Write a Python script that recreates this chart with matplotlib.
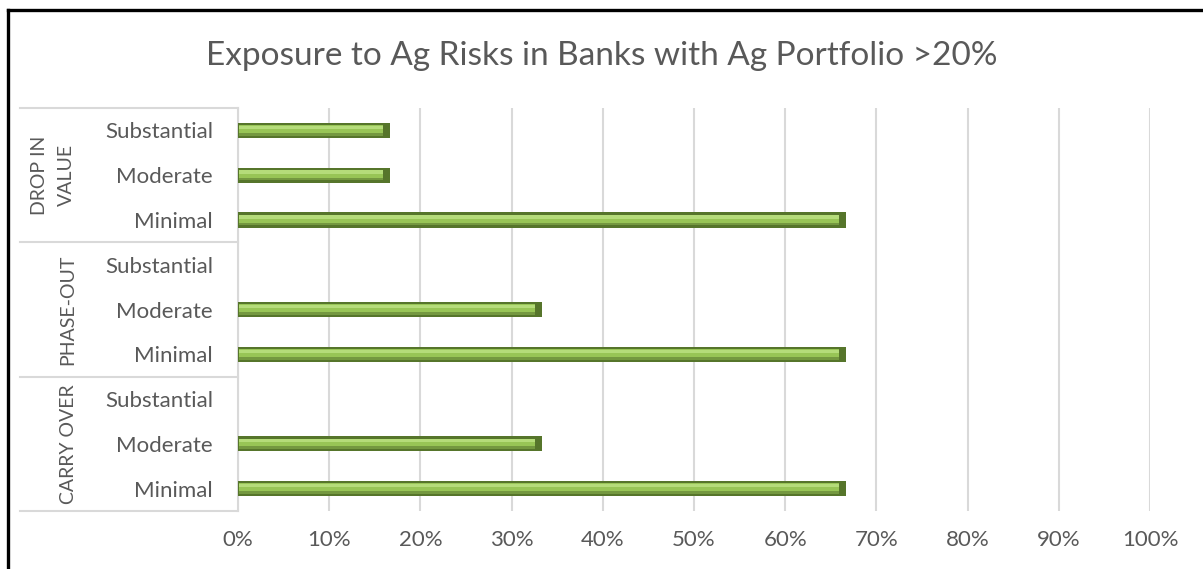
import numpy as np
import matplotlib.pyplot as plt
from matplotlib.lines import Line2D
import matplotlib.transforms as mtransforms

plt.rcParams['font.family'] = ['Lato', 'DejaVu Sans']

title = "Exposure to Ag Risks in Banks with Ag Portfolio >20%"
groups = ['CARRY OVER', 'PHASE-OUT', 'DROP IN\nVALUE']
levels = ['Minimal', 'Moderate', 'Substantial']
carry_over = [66.67, 33.33, 0.0]
phase_out = [66.67, 33.33, 0.0]
drop_in_value = [66.67, 16.67, 16.67]
xticks = [0, 10, 20, 30, 40, 50, 60, 70, 80, 90, 100]

values = np.array(carry_over + phase_out + drop_in_value)
labels = levels * 3
ypos = np.arange(len(values))

W, H = 1203, 569
fig = plt.figure(figsize=(W / 100, H / 100), dpi=100)
ax = fig.add_axes([238 / W, (H - 511) / H, (1150 - 238) / W, (511 - 108) / H])

grey = '#d9d9d9'
txt = '#595959'

# bevelled bars: dark base, mid body, light top strip
h = 0.34
ax.barh(ypos, values, height=h, color='#56752b', zorder=3)
body = np.where(values > 0, values - 0.9, 0)
ax.barh(ypos + 0.01, body, height=h * 0.62, left=0.15, color='#98c556', zorder=4)
ax.barh(ypos + h * 0.2, body, height=h * 0.22, left=0.15, color='#b5dc7a', zorder=5)
ax.barh(ypos - h * 0.26, body, height=h * 0.18, left=0.15, color='#749840', zorder=5)

ax.set_xlim(0, 100)
ax.set_ylim(-0.5, len(values) - 0.5)
ax.set_xticks(xticks)
ax.set_xticklabels([f"{t}%" for t in xticks], color=txt, fontsize=16)
ax.set_yticks(ypos)
ax.set_yticklabels(labels, color=txt, fontsize=16)
ax.tick_params(axis='both', length=0)
ax.tick_params(axis='x', pad=14)
ax.tick_params(axis='y', pad=18)
ax.grid(axis='x', color=grey, linewidth=1.5, zorder=0)
for s in ax.spines.values():
    s.set_visible(False)

# group separators and labels
tr = mtransforms.blended_transform_factory(ax.transAxes, ax.transData)
x0 = (20 - 238) / (1150 - 238)
for b in [-0.5, 2.5, 5.5, 8.5]:
    ax.add_line(Line2D([x0, 0], [b, b], transform=tr, color=grey, lw=1.5, clip_on=False))
ax.add_line(Line2D([0, 0], [-0.5, 8.5], transform=tr, color=grey, lw=1.5, clip_on=False))
for i, g in enumerate(groups):
    gx = (53 - 238) / 912 if '\n' in g else (68 - 238) / 912
    ax.text(gx, 3 * i + 1, g, transform=tr, rotation=90, ha='center', va='center',
            color=txt, fontsize=14, linespacing=1.7)

fig.text(0.5, (H - 56) / H, title, ha='center', va='center', color=txt, fontsize=24)

# outer frame
fig.add_artist(Line2D([8 / W, 8 / W], [0, (H - 10) / H], color='black', lw=2.4))
fig.add_artist(Line2D([8 / W, 1], [(H - 10) / H, (H - 10) / H], color='black', lw=2.4))

fig.savefig('out.png', dpi=100)
